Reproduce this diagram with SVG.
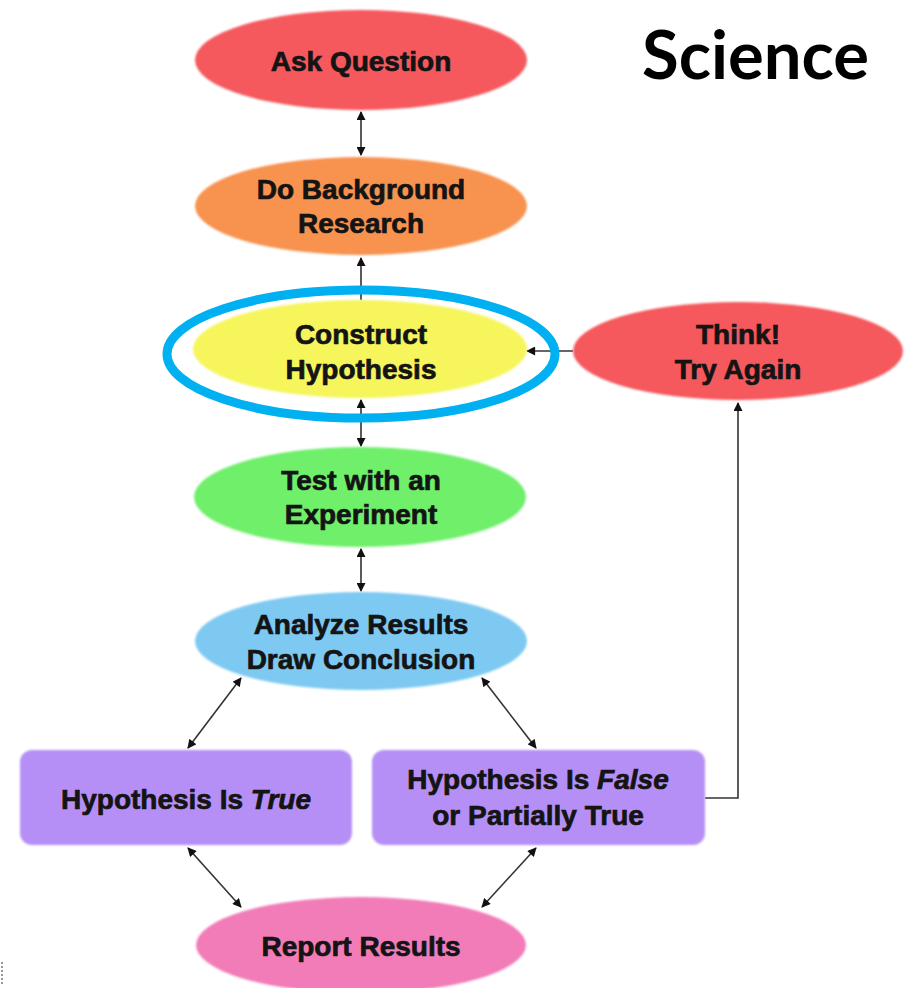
<svg xmlns="http://www.w3.org/2000/svg" width="906" height="988" viewBox="0 0 906 988">
  <style>
    .node-text { font-family: "Liberation Sans", Arial, sans-serif; font-weight: bold; font-size: 28px; fill: #141414; text-anchor: middle; stroke: #141414; stroke-width: 0.7; }
    .conn { stroke: #333; stroke-width: 1.6; fill: none; }
    .title { font-family: "Lato", "Open Sans", sans-serif; font-weight: bold; font-size: 67px; fill: #000; }
  </style>
  <defs>
    <marker id="arrow" viewBox="0 0 10 10" refX="9" refY="5" markerWidth="10" markerHeight="9" markerUnits="userSpaceOnUse" orient="auto-start-reverse">
      <path d="M0,0 L10,5 L0,10 z" fill="#111"/>
    </marker>
    <filter id="soft" x="-5%" y="-5%" width="110%" height="110%">
      <feGaussianBlur stdDeviation="1.2"/>
    </filter>
  </defs>

  <rect width="906" height="988" fill="#fff"/>

  <text class="title" x="642" y="79">Science</text>

  <!-- connectors -->
  <g id="connectors">
    <line class="conn" x1="361" y1="112" x2="361" y2="155" marker-start="url(#arrow)" marker-end="url(#arrow)"/>
    <line class="conn" x1="361" y1="300" x2="361" y2="258" marker-end="url(#arrow)"/>
    <line class="conn" x1="361" y1="400" x2="361" y2="446" marker-start="url(#arrow)" marker-end="url(#arrow)"/>
    <line class="conn" x1="361" y1="549" x2="361" y2="591" marker-start="url(#arrow)" marker-end="url(#arrow)"/>
    <line class="conn" x1="573" y1="351" x2="527" y2="351" marker-end="url(#arrow)"/>
    <polyline class="conn" points="705,798 738,798 738,403" marker-end="url(#arrow)"/>
    <line class="conn" x1="241" y1="678" x2="188" y2="748" marker-start="url(#arrow)" marker-end="url(#arrow)"/>
    <line class="conn" x1="482" y1="678" x2="536" y2="748" marker-start="url(#arrow)" marker-end="url(#arrow)"/>
    <line class="conn" x1="188" y1="848" x2="241" y2="907" marker-start="url(#arrow)" marker-end="url(#arrow)"/>
    <line class="conn" x1="536" y1="848" x2="482" y2="907" marker-start="url(#arrow)" marker-end="url(#arrow)"/>
  </g>

  <g id="ask-question">
    <ellipse cx="361" cy="60" rx="166" ry="50" fill="#F5585D" filter="url(#soft)"/>
    <text class="node-text" x="361" y="71">Ask Question</text>
  </g>

  <g id="background-research">
    <ellipse cx="361" cy="206" rx="166" ry="49" fill="#F8924F" filter="url(#soft)"/>
    <text class="node-text" x="361" y="199">Do Background</text>
    <text class="node-text" x="361" y="233">Research</text>
  </g>

  <g id="construct-hypothesis">
    <ellipse cx="360" cy="349" rx="167" ry="49" fill="#F6F55C" filter="url(#soft)"/>
    <text class="node-text" x="361" y="344">Construct</text>
    <text class="node-text" x="361" y="379">Hypothesis</text>
    <ellipse cx="361" cy="354" rx="194" ry="64" fill="none" stroke="#00B0F0" stroke-width="9"/>
  </g>

  <g id="think-try-again">
    <ellipse cx="738" cy="351" rx="165" ry="49" fill="#F5585D" filter="url(#soft)"/>
    <text class="node-text" x="738" y="344">Think!</text>
    <text class="node-text" x="738" y="379">Try Again</text>
  </g>

  <g id="test-experiment">
    <ellipse cx="360" cy="497" rx="166" ry="50" fill="#6FEF6B" filter="url(#soft)"/>
    <text class="node-text" x="361" y="490">Test with an</text>
    <text class="node-text" x="361" y="524">Experiment</text>
  </g>

  <g id="analyze-results">
    <ellipse cx="361" cy="641" rx="166" ry="49" fill="#7DC9F2" filter="url(#soft)"/>
    <text class="node-text" x="361" y="634">Analyze Results</text>
    <text class="node-text" x="361" y="669">Draw Conclusion</text>
  </g>

  <g id="hypothesis-true">
    <rect x="20" y="750" width="332" height="95" rx="12" fill="#B68FF6" filter="url(#soft)"/>
    <text class="node-text" x="186" y="809">Hypothesis Is <tspan font-style="italic">True</tspan></text>
  </g>

  <g id="hypothesis-false">
    <rect x="372" y="750" width="333" height="95" rx="12" fill="#B68FF6" filter="url(#soft)"/>
    <text class="node-text" x="538" y="789">Hypothesis Is <tspan font-style="italic">False</tspan></text>
    <text class="node-text" x="538" y="825">or Partially True</text>
  </g>

  <g id="report-results">
    <ellipse cx="361" cy="945" rx="165" ry="48" fill="#F27CB8" filter="url(#soft)"/>
    <text class="node-text" x="361" y="956">Report Results</text>
  </g>

  <line x1="2" y1="962" x2="2" y2="986" stroke="#333" stroke-width="1" stroke-dasharray="2,2"/>
</svg>
